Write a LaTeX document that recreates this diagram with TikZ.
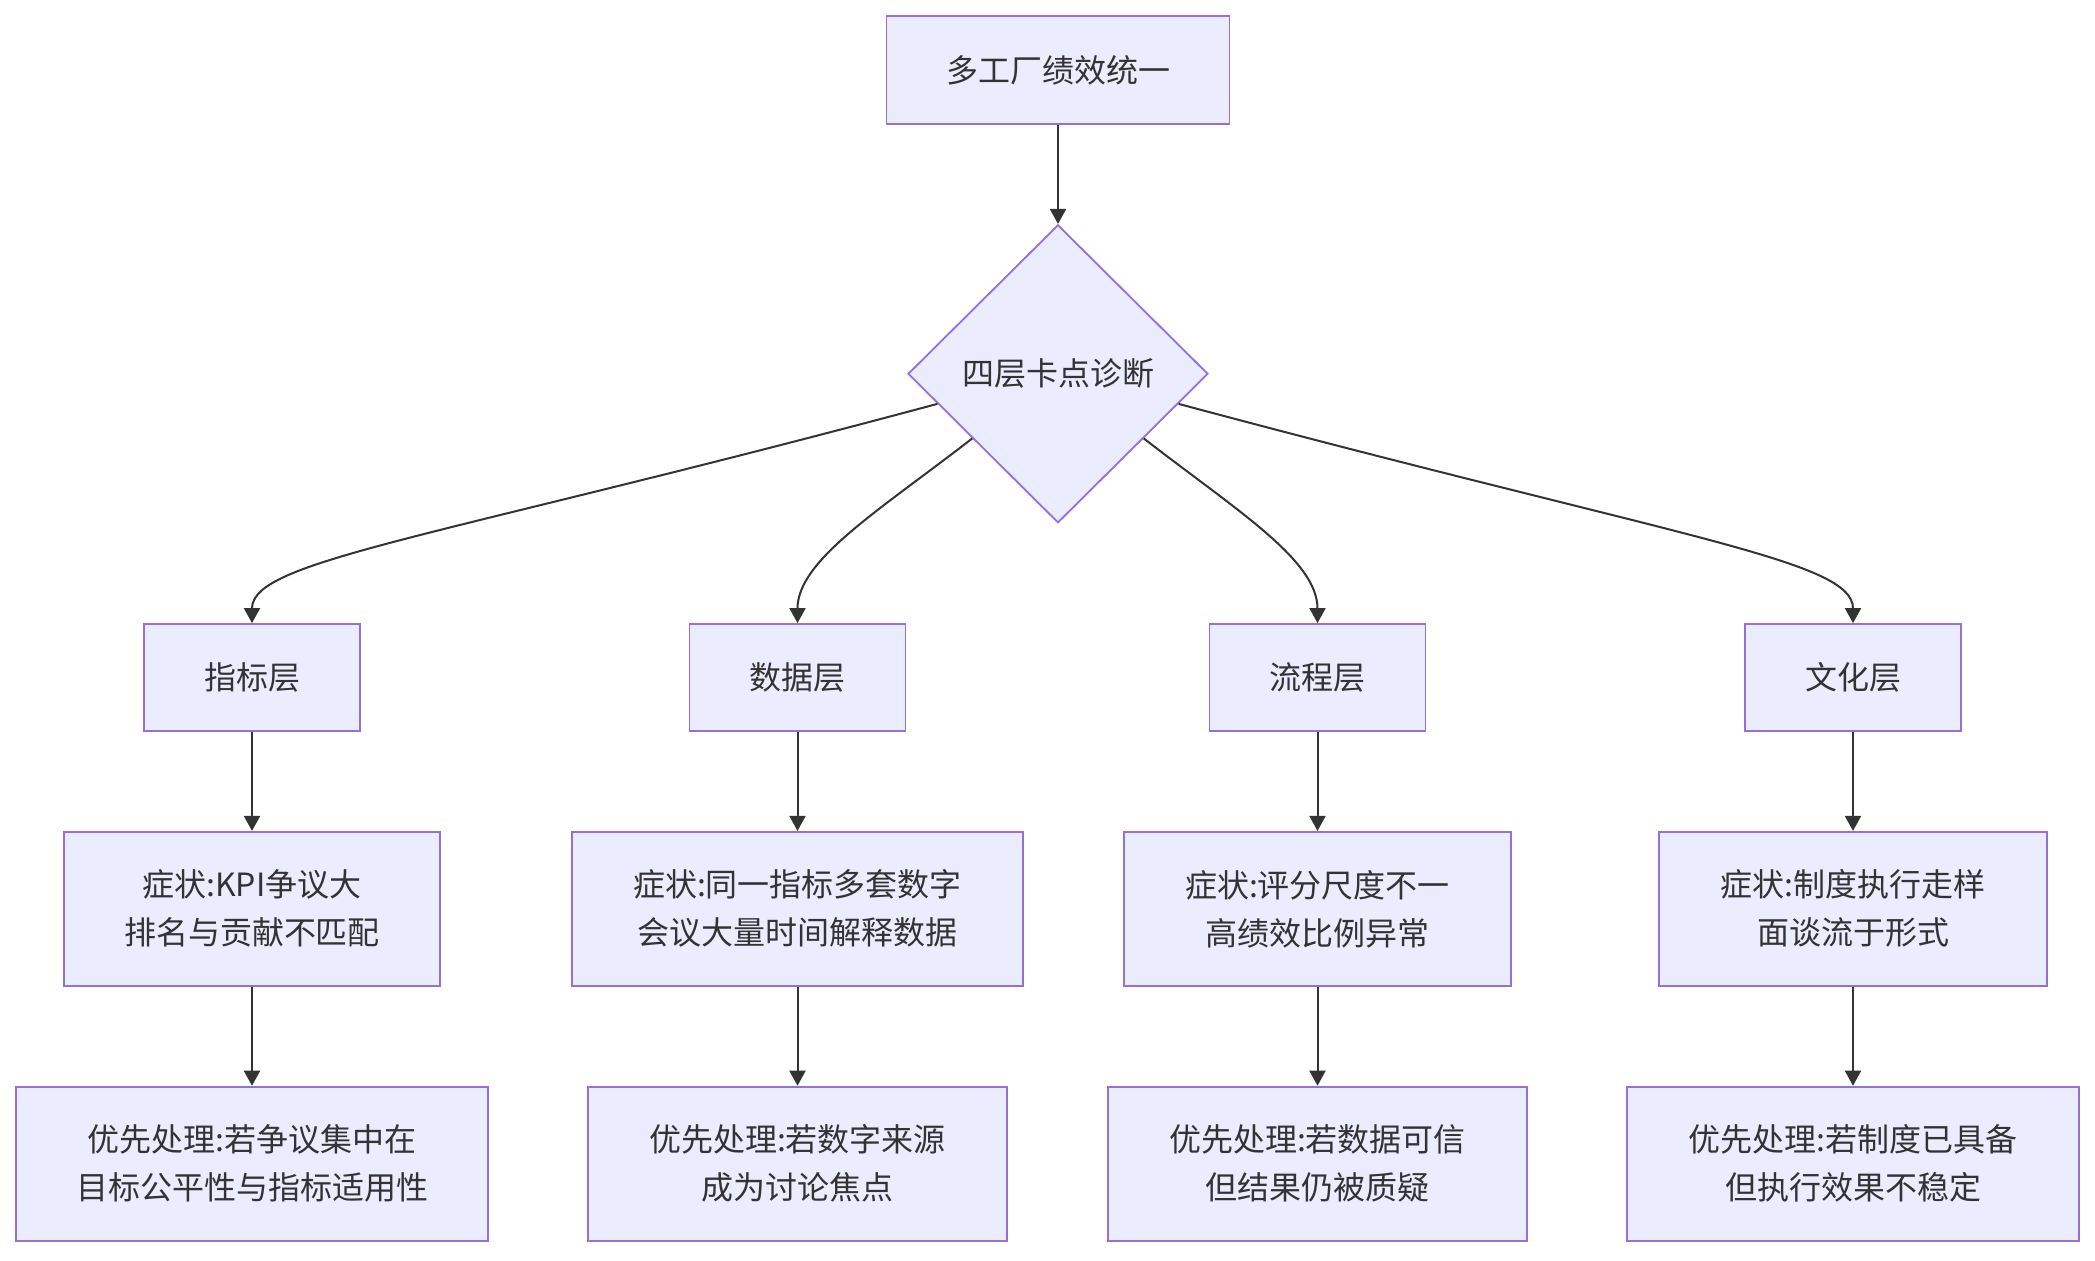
\documentclass[tikz,border=0pt]{standalone}
\usepackage{fontspec}
\setmainfont{Noto Sans CJK SC}
\usepackage{xcolor}
\usetikzlibrary{arrows.meta, positioning, shapes.geometric}
\definecolor{mmfill}{HTML}{ECECFF}
\definecolor{mmborder}{HTML}{9370DB}
\definecolor{mmtext}{HTML}{333333}

\begin{document}
\begin{tikzpicture}[x=0.5pt, y=-0.5pt,
    box/.style={rectangle, draw=mmborder, line width=0.9pt, fill=mmfill,
        minimum height=53.5pt, inner sep=0pt, align=center, text=mmtext,
        font=\fontsize{16}{24}\selectfont},
    tallbox/.style={box, minimum height=77pt},
    decision/.style={diamond, draw=mmborder, line width=0.9pt, fill=mmfill,
        minimum width=150pt, minimum height=149pt, inner sep=0pt, text=mmtext,
        font=\fontsize{16}{24}\selectfont},
    arrow/.style={-{Triangle[length=7.5pt, width=8pt]}, line width=1pt, color=mmtext}
]
\useasboundingbox (0,0) rectangle (2095,1260);

\node[box, minimum width=171.5pt, minimum height=54pt] (goal) at (1058,70) {多工厂绩效统一};
\node[decision, below=49.5pt of goal] (diag) {四层卡点诊断};

% four layers
\node[box, minimum width=108pt] (kpi)  at (252,677.5)    {指标层};
\node[box, minimum width=108pt] (data) at (797.5,677.5)  {数据层};
\node[box, minimum width=108pt] (proc) at (1317.5,677.5) {流程层};
\node[box, minimum width=108pt] (cult) at (1853,677.5)   {文化层};

% symptoms
\node[tallbox, minimum width=188pt,   below=49.5pt of kpi]  (kpiS)  {症状:KPI争议大\\排名与贡献不匹配};
\node[tallbox, minimum width=225.5pt, below=49.5pt of data] (dataS) {症状:同一指标多套数字\\会议大量时间解释数据};
\node[tallbox, minimum width=193.5pt, below=49.5pt of proc] (procS) {症状:评分尺度不一\\高绩效比例异常};
\node[tallbox, minimum width=194pt,   below=49.5pt of cult] (cultS) {症状:制度执行走样\\面谈流于形式};

% priorities
\node[tallbox, minimum width=236pt,   below=49.5pt of kpiS]  (kpiP)  {优先处理:若争议集中在\\目标公平性与指标适用性};
\node[tallbox, minimum width=209.5pt, below=49.5pt of dataS] (dataP) {优先处理:若数字来源\\成为讨论焦点};
\node[tallbox, minimum width=209.5pt, below=49.5pt of procS] (procP) {优先处理:若数据可信\\但结果仍被质疑};
\node[tallbox, minimum width=226pt,   below=49.5pt of cultS] (cultP) {优先处理:若制度已具备\\但执行效果不稳定};

\draw[arrow] (goal) -- (diag);
\draw[arrow] (diag.194) .. controls (430,540) and (252,560) .. (kpi.north);
\draw[arrow] (diag.217) .. controls (880,510) and (797.5,560) .. (data.north);
\draw[arrow] (diag.323) .. controls (1236,510) and (1317.5,560) .. (proc.north);
\draw[arrow] (diag.346) .. controls (1686,540) and (1853,560) .. (cult.north);

\draw[arrow] (kpi)  -- (kpiS);
\draw[arrow] (data) -- (dataS);
\draw[arrow] (proc) -- (procS);
\draw[arrow] (cult) -- (cultS);
\draw[arrow] (kpiS)  -- (kpiP);
\draw[arrow] (dataS) -- (dataP);
\draw[arrow] (procS) -- (procP);
\draw[arrow] (cultS) -- (cultP);
\end{tikzpicture}
\end{document}
